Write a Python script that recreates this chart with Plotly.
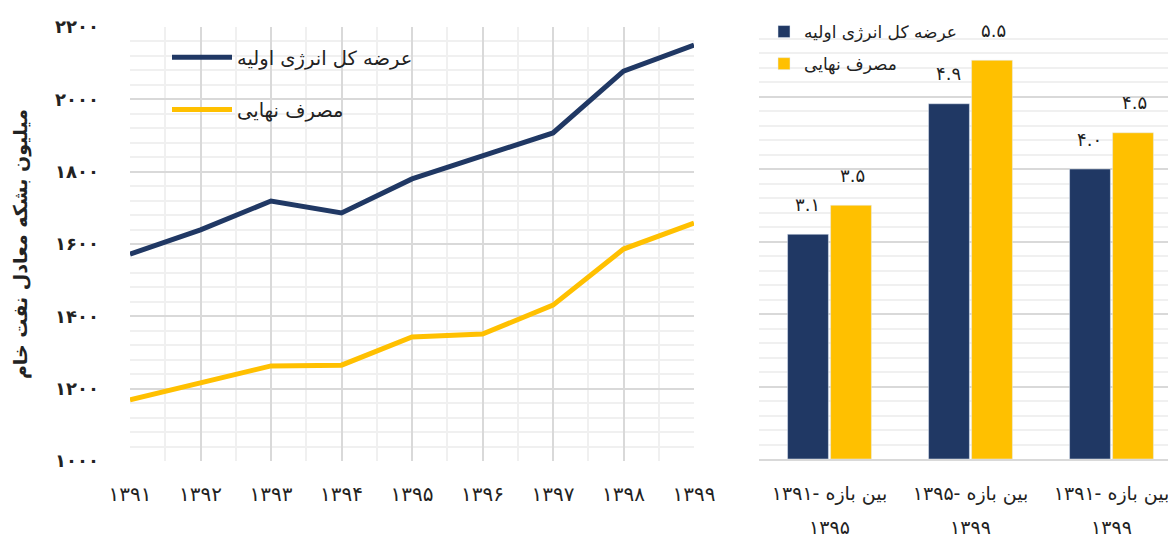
import plotly.graph_objects as go

# ---------------- data ----------------
years = ["1391", "1392", "1393", "1394", "1395", "1396", "1397", "1398", "1399"]
primary_supply = [1572, 1639, 1719, 1686, 1780, 1843, 1907, 2078, 2150]
final_consumption = [1169, 1216, 1263, 1265, 1343, 1351, 1431, 1586, 1658]

periods_line1 = ["بین بازه -1391", "بین بازه -1395", "بین بازه -1391"]
periods_line2 = ["1395", "1399", "1399"]
growth_supply = [3.1, 4.9, 4.0]
growth_consumption = [3.5, 5.5, 4.5]

y_ticks = [1000, 1200, 1400, 1600, 1800, 2000, 2200]

name_supply = "عرضه کل انرژی اولیه"
name_consumption = "مصرف نهایی"
y_title = "میلیون بشکه معادل نفت خام"

BLUE = "#203864"
YELLOW = "#FFC000"
FONT = "DejaVu Sans"

def fa(s):
    return str(s).translate(str.maketrans("0123456789", "۰۱۲۳۴۵۶۷۸۹"))

W, H = 1176, 538
OX, OY = 8, 8  # page offset of the plot div (body margin)

def px_x(p):
    return (p - OX) / W

def px_y(p):
    return 1 - (p - OY) / H

fig = go.Figure()

xi = list(range(len(years)))
fig.add_trace(go.Scatter(x=xi, y=primary_supply, mode="lines", name=name_supply,
                         line=dict(color=BLUE, width=5), legend="legend",
                         legendgroup="a", xaxis="x", yaxis="y"))
fig.add_trace(go.Scatter(x=xi, y=final_consumption, mode="lines", name=name_consumption,
                         line=dict(color=YELLOW, width=5), legend="legend",
                         legendgroup="b", xaxis="x", yaxis="y"))

pi = list(range(len(periods_line1)))
fig.add_trace(go.Bar(x=pi, y=growth_supply, name=name_supply, marker_color=BLUE,
                     legend="legend2", legendgroup="c", xaxis="x2", yaxis="y2"))
fig.add_trace(go.Bar(x=pi, y=growth_consumption, name=name_consumption, marker_color=YELLOW,
                     legend="legend2", legendgroup="d", xaxis="x2", yaxis="y2"))
# invisible helper so the second-line period axis is drawn
fig.add_trace(go.Scatter(x=pi, y=[0] * len(pi), mode="markers", marker=dict(opacity=0),
                         showlegend=False, hoverinfo="skip", xaxis="x3", yaxis="y2"))

annotations = []
for i, v in enumerate(growth_supply):
    annotations.append(dict(x=i, y=v, xref="x2", yref="y2", text=fa(f"{v:.1f}"),
                            showarrow=False, xshift=-22.5, yshift=30, yanchor="middle",
                            font=dict(family=FONT, size=18, color="#222")))
for i, v in enumerate(growth_consumption):
    annotations.append(dict(x=i, y=v, xref="x2", yref="y2", text=fa(f"{v:.1f}"),
                            showarrow=False, xshift=22.5, yshift=30, yanchor="middle",
                            font=dict(family=FONT, size=18, color="#222")))

MAJ = "#d9d9d9"
MIN = "#f0f0f0"

x2_left = 759
x2_range_max = -0.5 + (OX + W - x2_left) / 141.0

fig.update_layout(
    width=W, height=H,
    margin=dict(l=0, r=0, t=0, b=0, autoexpand=False),
    paper_bgcolor="white", plot_bgcolor="white",
    font=dict(family=FONT, color="#222"),
    barmode="group", bargap=0.39, bargroupgap=0.05,
    annotations=annotations,
    xaxis=dict(domain=[px_x(130), px_x(694)], range=[0, 8], tickmode="array",
               tickvals=xi, ticktext=[fa(y) for y in years], automargin=False,
               showgrid=True, gridcolor=MAJ, gridwidth=1.5, zeroline=False,
               minor=dict(dtick=0.5, showgrid=True, gridcolor=MIN, gridwidth=1.5),
               tickfont=dict(size=20, family=FONT), ticklabelstandoff=19,
               fixedrange=True),
    yaxis=dict(domain=[px_y(461), px_y(27)], range=[1000, 2200], automargin=False,
               tickmode="array", tickvals=y_ticks, ticktext=["<b>" + fa(t) + "</b>" for t in y_ticks],
               showgrid=True, gridcolor=MAJ, gridwidth=1.5, zeroline=False,
               minor=dict(dtick=40, showgrid=True, gridcolor=MIN, gridwidth=1.5),
               tickfont=dict(size=18, family=FONT), ticklabelstandoff=30,
               title=dict(text="<b>" + y_title + "</b>", font=dict(size=19, family=FONT),
                          standoff=22)),
    xaxis2=dict(domain=[px_x(x2_left), 1.0], range=[-0.5, x2_range_max], tickmode="array",
                tickvals=pi, ticktext=[fa(p) for p in periods_line1], automargin=False,
                showgrid=False, zeroline=False, showline=True, linecolor=MAJ, linewidth=2,
                tickfont=dict(size=19, family=FONT), ticklabelstandoff=16,
                anchor="y2"),
    xaxis3=dict(domain=[px_x(x2_left), 1.0], range=[-0.5, x2_range_max], tickmode="array",
                tickvals=pi, ticktext=[fa(p) for p in periods_line2], automargin=False,
                showgrid=False, zeroline=False, showline=False, overlaying="x2",
                tickfont=dict(size=19, family=FONT), ticklabelstandoff=55,
                anchor="y2", side="bottom"),
    yaxis2=dict(domain=[px_y(459), px_y(24)], range=[0, 6], dtick=1,
                showticklabels=False, showgrid=True, gridcolor=MAJ, gridwidth=1.5,
                zeroline=False, automargin=False,
                minor=dict(dtick=0.2, showgrid=True, gridcolor=MIN, gridwidth=1.5),
                anchor="x2"),
    legend=dict(x=px_x(167), y=px_y(38), xanchor="left", yanchor="top",
                bgcolor="rgba(255,255,255,0)", font=dict(size=19.5, family=FONT),
                tracegroupgap=24, itemwidth=60),
    legend2=dict(x=px_x(764), y=px_y(14), xanchor="left", yanchor="top",
                 bgcolor="rgba(255,255,255,0)", font=dict(size=17, family=FONT),
                 tracegroupgap=7, itemwidth=30),
)

fig.write_html("out.html")
